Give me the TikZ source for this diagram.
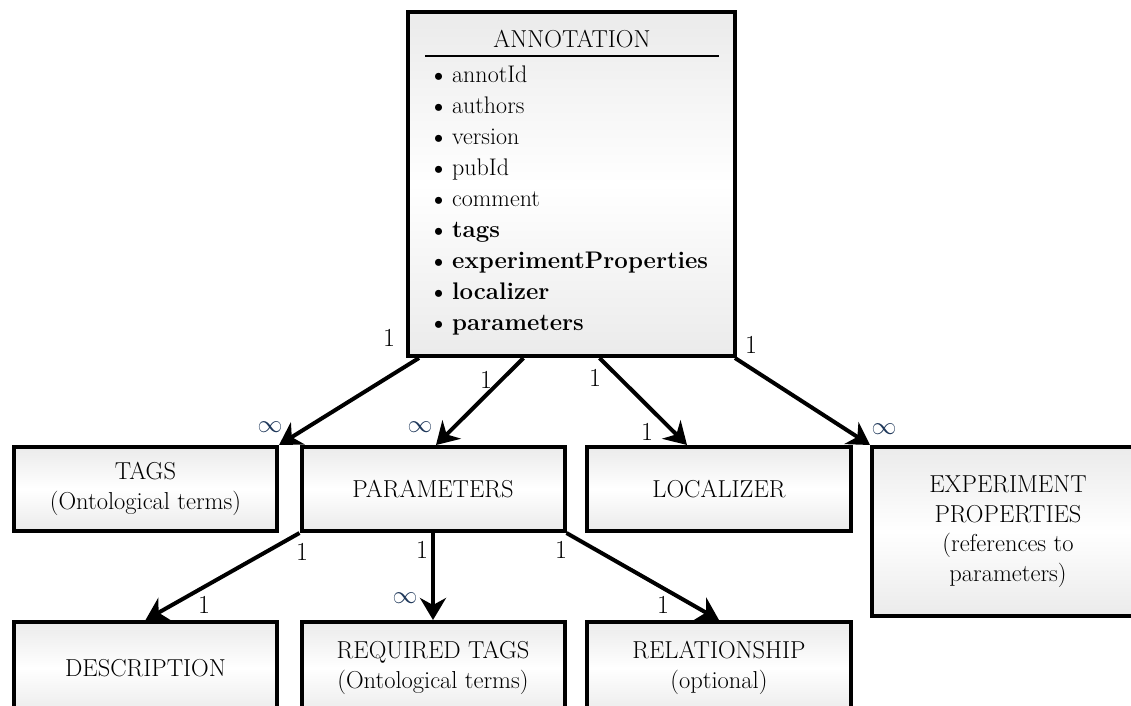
\documentclass[tikz,border=0pt]{standalone}
\usetikzlibrary{arrows.meta}
\definecolor{infblue}{RGB}{31,56,90}

\begin{document}
\begin{tikzpicture}[x=1pt,y=-1pt,
    boxtext/.style={font=\fontsize{24.5}{29.5}\selectfont},
    box/.style={boxtext,draw,line width=4pt,rectangle,inner sep=0pt,align=center,
      top color=black!8,bottom color=black!8,middle color=white,
      minimum width=263pt,minimum height=84pt},
    arr/.style={line width=4pt,-{Stealth[length=22pt,width=26pt,inset=7pt]}},
    card/.style={font=\fontsize{26}{30}\selectfont},
    attrtext/.style={font=\fontsize{24}{29}\selectfont,anchor=base west,inner sep=0pt},
    inf/.style={text=infblue,font=\fontsize{24}{29}\selectfont}]
  \useasboundingbox (0,0) rectangle (1131,705);
  \clip (0,0) rectangle (1131,705);

  \node[box,minimum width=327pt,minimum height=344pt] (ANN) at (571.5,184) {};
  \node[boxtext,anchor=base] (ANNt) at (572,47) {ANNOTATION};
  \draw[line width=2pt] (425,56) -- (719,56);
  \foreach \attr [count=\i] in {annotId,authors,version,pubId,comment,
      \textbf{tags},\textbf{experimentProperties},\textbf{localizer},\textbf{parameters}}
    \node[attrtext] (ANN\i) at (428,51+31*\i) {{\bfseries\textbullet}\kern3pt\attr};

  \node[box] (TAGS) at (145.5,489) {TAGS\\(Ontological terms)};
  \node[box] (PAR) at (433,489) {PARAMETERS};
  \node[box,minimum width=264pt] (LOC) at (719,489) {LOCALIZER};
  \node[box,minimum width=272pt,minimum height=169pt] (EXP) at (1008,531.5)
    {EXPERIMENT\\PROPERTIES\\(references to\\parameters)};
  \node[box,minimum height=92pt] (DESC) at (145.5,668) {DESCRIPTION};
  \node[box,minimum height=92pt] (REQ) at (433,668) {REQUIRED TAGS\\(Ontological terms)};
  \node[box,minimum width=264pt,minimum height=92pt] (REL) at (719,668) {RELATIONSHIP\\(optional)};

  \draw[arr] ([xshift=13pt]ANN.south west) to (TAGS.north east);
  \draw[arr] ([xshift=-48pt]ANN.south) to ([xshift=3pt]PAR.north);
  \draw[arr] ([xshift=28pt]ANN.south) to ([xshift=-32pt]LOC.north);
  \draw[arr] ([xshift=-2pt]ANN.south east) to (EXP.north west);
  \draw[arr] (PAR.south west) to (DESC.north);
  \draw[arr] (PAR.south) to (REQ.north);
  \draw[arr] (PAR.south east) to (REL.north);

  % multiplicities
  \node[card] (m1a) at (389,338) {1};
  \node[inf] (m1b) at (270,427) {$\infty$};
  \node[card] (m2a) at (486,380) {1};
  \node[inf] (m2b) at (420,427) {$\infty$};
  \node[card] (m3a) at (595,378) {1};
  \node[card] (m3b) at (647,432) {1};
  \node[card] (m4a) at (751,345) {1};
  \node[inf] (m4b) at (884,429) {$\infty$};
  \node[card] (m5a) at (302,552) {1};
  \node[card] (m5b) at (204,605) {1};
  \node[card] (m6a) at (422,550) {1};
  \node[inf] (m6b) at (405,598) {$\infty$};
  \node[card] (m7a) at (561,550) {1};
  \node[card] (m7b) at (663,605) {1};
\end{tikzpicture}
\end{document}
